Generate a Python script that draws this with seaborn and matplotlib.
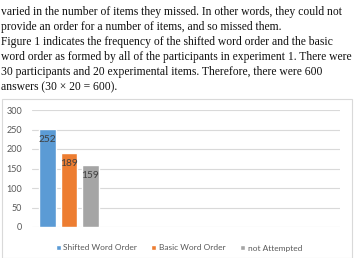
import matplotlib
matplotlib.use("Agg")
import matplotlib.pyplot as plt
import seaborn as sns
import pandas as pd
from matplotlib.patches import Rectangle

# ---- data ----
series = ["Shifted Word Order", "Basic Word Order", "not Attempted"]
values = [252, 189, 159]
category = ["Experiment 1", "Experiment 1", "Experiment 1"]
colors = ["#5B9BD5", "#ED7D31", "#A5A5A5"]
yticks = [0, 50, 100, 150, 200, 250, 300]
paragraph = [
    "varied in the number of items they missed. In other words, they could not",
    "provide an order for a number of items, and so missed them.",
    "Figure 1 indicates the frequency of the shifted word order and the basic",
    "word order as formed by all of the participants in experiment 1. There were",
    "30 participants and 20 experimental items. Therefore, there were 600",
    "answers (30 \u00d7 20 = 600).",
]

W, H = 356, 258
sns.set_theme(style="white")
plt.rcParams["font.family"] = ["Lato", "DejaVu Sans"]

fig = plt.figure(figsize=(W / 100, H / 100), dpi=100)
fig.patch.set_facecolor("white")

# paragraph text above the chart
for i, line in enumerate(paragraph):
    fig.text(1 / W, 1 - (12 + 15 * i) / H, line, ha="left", va="center",
             fontsize=8.35, family=["Liberation Serif", "DejaVu Serif"], color="#111111")

# chart frame
fig.add_artist(Rectangle((2 / W, 0), 350 / W, 1 - 99 / H, transform=fig.transFigure,
                         fill=False, edgecolor="#D9D9D9", linewidth=0.8))

ax = fig.add_axes([32 / W, 1 - 227 / H, 308 / W, 117 / H])
df = pd.DataFrame({"cat": category, "series": series, "value": values})
sns.barplot(data=df, x="cat", y="value", hue="series", hue_order=series,
            palette=colors, saturation=1, width=0.8, gap=0.21, ax=ax, legend=True)

ax.set_xlim(-0.459, 3.363)
ax.set_ylim(0, 300)
ax.set_yticks(yticks)
ax.set_xticks([])
ax.set_xlabel("")
ax.set_ylabel("")
for s in ax.spines.values():
    s.set_visible(False)
ax.grid(axis="y", color="#D9D9D9", linewidth=0.8)
ax.set_axisbelow(True)
ax.tick_params(axis="y", length=0, pad=7, labelsize=6.5, labelcolor="#595959")

for cont in ax.containers:
    for p in cont:
        h = p.get_height()
        ax.annotate(f"{h:.0f}", (p.get_x() + p.get_width() / 2, h),
                    xytext=(0, -7.5), textcoords="offset points",
                    ha="center", va="center", fontsize=7.3, color="#404040")

handles, labels = ax.get_legend_handles_labels()
ax.legend(handles, labels, loc="center", bbox_to_anchor=(179 / W, 1 - 248 / H),
          bbox_transform=fig.transFigure, ncol=3, frameon=False, fontsize=6,
          handlelength=0.6, handleheight=0.6, handletextpad=0.35, columnspacing=1.7,
          labelcolor="#595959")

fig.savefig("out.png", dpi=100)
